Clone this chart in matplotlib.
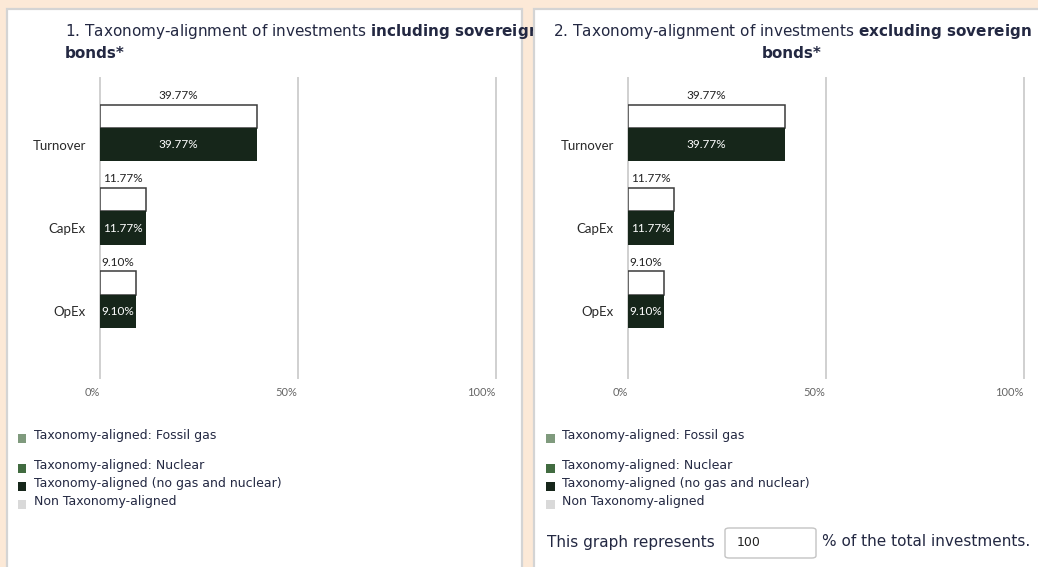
import matplotlib
matplotlib.use("Agg")
import matplotlib.pyplot as plt
from matplotlib.patches import Rectangle, FancyBboxPatch
from matplotlib.transforms import Bbox

# ---- data -------------------------------------------------------------
categories = ["Turnover", "CapEx", "OpEx"]
incl_aligned = [39.77, 11.77, 9.10]      # taxonomy-aligned (no gas and nuclear)
incl_total = [39.77, 11.77, 9.10]        # total taxonomy-aligned (outlined bar)
excl_aligned = [39.77, 11.77, 9.10]
excl_total = [39.77, 11.77, 9.10]
tick_values = [0, 50, 100]
tick_labels = ["0%", "50%", "100%"]
legend_labels = ["Taxonomy-aligned: Fossil gas",
                 "Taxonomy-aligned: Nuclear",
                 "Taxonomy-aligned (no gas and nuclear)",
                 "Non Taxonomy-aligned"]
legend_colors = ["#7f9a7d", "#416b40", "#16261a", "#d9d9d9"]
share_of_investments = 100

# ---- styling ----------------------------------------------------------
W, H = 1038, 567
PEACH = "#fce9d7"
BORDER = "#d4d4d4"
NAVY = "#232842"
DARK = "#16261a"
BAR_FONT = "Lato"

def fx(x):
    return x / W

def fy(y):
    return 1 - y / H

fig = plt.figure(figsize=(W / 100, H / 100), dpi=100, facecolor=PEACH)

# panel cards
for x0, x1 in [(7, 522), (534, 1060)]:
    fig.add_artist(Rectangle((fx(x0), fy(600)), fx(x1 - x0), (600 - 9) / H,
                             transform=fig.transFigure, facecolor="white",
                             edgecolor=BORDER, lw=1.6, zorder=0))


def draw_panel(left_px, aligned, total):
    ax = fig.add_axes([fx(left_px), fy(378), 396 / W, 300 / H])
    ax.set_facecolor("none")
    y = list(range(len(categories)))
    # outlined total bar sits just above the aligned bar
    ax.barh([v - 0.34 for v in y], total, height=0.28,
            color="white", edgecolor="#3a3a3a", lw=1.1, zorder=2)
    ax.barh(y, aligned, height=0.4, color=DARK, zorder=3)
    for yi, a, t in zip(y, aligned, total):
        ax.annotate(f"{t:.2f}%", (t / 2, yi - 0.48), xytext=(0, 6.5),
                    textcoords="offset points", ha="center", va="center",
                    fontsize=8.5, family=BAR_FONT, color="#222222", zorder=4)
        ax.text(a / 2, yi, f"{a:.2f}%", ha="center", va="center",
                fontsize=8.5, family=BAR_FONT, color="white", zorder=4)
    ax.set_xlim(0, 100)
    ax.set_ylim(2.8, -0.8)
    ax.set_yticks(y)
    ax.set_yticklabels(categories, family=BAR_FONT, fontsize=9.5, color="#2a2a2a")
    ax.set_xticks(tick_values)
    ax.set_xticklabels(tick_labels, family=BAR_FONT, fontsize=8, color="#666666",
                       ha="right")
    ax.tick_params(axis="both", length=0)
    ax.tick_params(axis="y", pad=10)
    ax.tick_params(axis="x", pad=6.5)
    for s in ax.spines.values():
        s.set_visible(False)
    ax.grid(axis="x", color="#d0d0d0", lw=1.4, zorder=1)
    ax.grid(axis="y", visible=False)
    for gl in ax.get_xgridlines():
        gl.set_clip_on(False)
    return ax


draw_panel(99.7, incl_aligned, incl_total)
draw_panel(627.7, excl_aligned, excl_total)

# titles
t1 = fig.text(fx(65), fy(36), r"1. Taxonomy-alignment of investments $\bf{including\ sovereign}$",
              fontsize=11, color=NAVY, ha="left", va="baseline")
t1b = fig.text(fx(65), fy(58), "bonds*", fontsize=11, fontweight="bold", color=NAVY,
               ha="left", va="baseline")
clip = Bbox.from_extents(0, 0, 533, H)
for t in (t1, t1b):
    t.set_clip_box(clip)
    t.set_clip_on(True)

fig.text(fx(792), fy(36), r"2. Taxonomy-alignment of investments $\bf{excluding\ sovereign}$",
         fontsize=11, color=NAVY, ha="center", va="baseline")
fig.text(fx(792), fy(58), "bonds*", fontsize=11, fontweight="bold", color=NAVY,
         ha="center", va="baseline")

# legends
rows = [436, 466, 484, 502]
for mx in (18, 546):
    for lab, col, ry in zip(legend_labels, legend_colors, rows):
        fig.add_artist(Rectangle((fx(mx), fy(ry + 6.5)), fx(8.5), 8.5 / H,
                                 transform=fig.transFigure, facecolor=col,
                                 edgecolor="none"))
        fig.text(fx(mx + 15.5), fy(ry), lab, fontsize=9, color=NAVY,
                 ha="left", va="center")

# coverage line with input box
fig.text(fx(546.7), fy(542), "This graph represents", fontsize=11, color=NAVY,
         ha="left", va="center")
fig.add_artist(FancyBboxPatch((fx(725), fy(558)), fx(816 - 725), 30 / H,
                              boxstyle="round,pad=0,rounding_size=0.004",
                              transform=fig.transFigure, facecolor="white",
                              edgecolor="#c4c4c4", lw=1.0))
fig.text(fx(736.7), fy(543), f"{share_of_investments}", fontsize=9, color="#222222",
         ha="left", va="center")
fig.text(fx(821.7), fy(542), "% of the total investments.", fontsize=11, color=NAVY,
         ha="left", va="center")

fig.savefig("out.png", dpi=100, facecolor=PEACH)
